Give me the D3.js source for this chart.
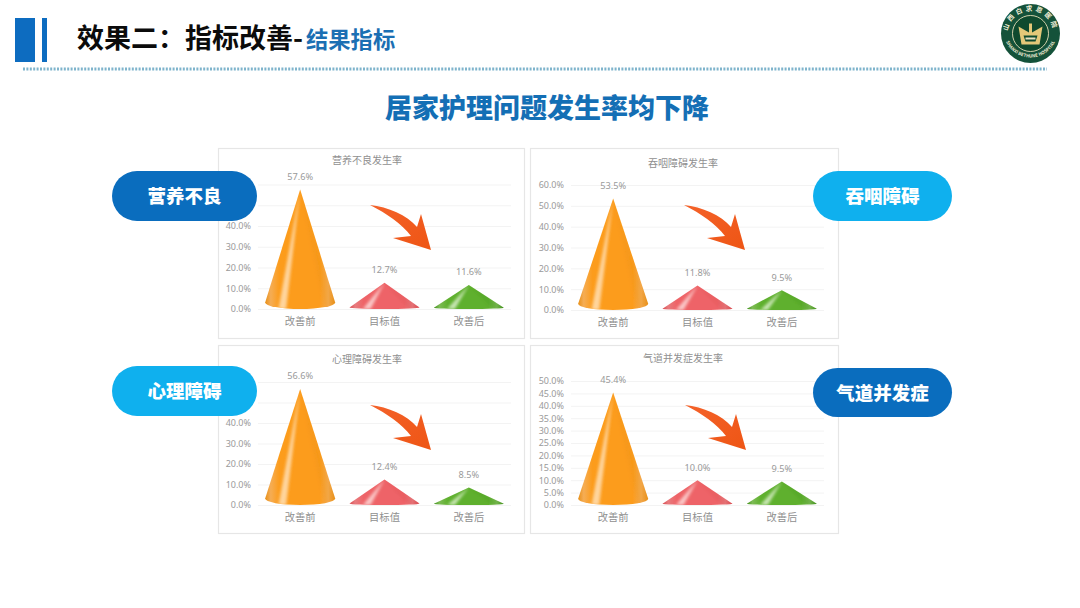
<!DOCTYPE html>
<html><head><meta charset="utf-8">
<script src="https://cdn.jsdelivr.net/npm/d3@7/dist/d3.min.js"></script>
<style>html,body{margin:0;padding:0;background:#fff}svg{display:block}text{font-family:"Noto Sans CJK SC","Noto Sans",sans-serif}</style>
</head><body><svg id="c" width="1080" height="608"></svg>
<script>
const categories = ["改善前","目标值","改善后"];
const chartTitles = ["营养不良发生率","吞咽障碍发生率","心理障碍发生率","气道并发症发生率"];
const pillLabels = ["营养不良","吞咽障碍","心理障碍","气道并发症"];
const valuesNutrition = [57.6,12.7,11.6];
const valuesSwallow = [53.5,11.8,9.5];
const valuesMental = [56.6,12.4,8.5];
const valuesAirway = [45.4,10.0,9.5];
const ticksTen = [0,10,20,30,40,50,60];
const ticksFive = [0,5,10,15,20,25,30,35,40,45,50];
const headingMain = "效果二：指标改善-";
const headingSub = "结果指标";
const headline = "居家护理问题发生率均下降";

const panels = [
 {box:[218,148,306,190],x:[258,511],y:[309,184.5],max:60,vals:valuesNutrition,ticks:ticksTen,tx:367,ty:160,arrow:[370,205],title:chartTitles[0],
  pill:[112,171,145,50,"#0a6dbe"],pillText:pillLabels[0]},
 {box:[530,148,308,190],x:[571,824],y:[310,185],max:60,vals:valuesSwallow,ticks:ticksTen,tx:683,ty:163,arrow:[684,205],title:chartTitles[1],
  pill:[813,171,139,50,"#0fb0ee"],pillText:pillLabels[1]},
 {box:[218,345,306,188],x:[258,511],y:[505,382],max:60,vals:valuesMental,ticks:ticksTen,tx:367,ty:359,arrow:[370,405],title:chartTitles[2],
  pill:[112,366,145,50,"#0fb0ee"],pillText:pillLabels[2]},
 {box:[530,345,308,188],x:[571,824],y:[505,381],max:50,vals:valuesAirway,ticks:ticksFive,tx:683,ty:358,arrow:[685,405],title:chartTitles[3],
  pill:[813,368,139,49,"#0a6dbe"],pillText:pillLabels[3]}
];
const coneColors = [
 {id:"o",edge:"#f5ad55",base:"#fc9c1c",hi:"#ffe3bd",dark:"#e89018"},
 {id:"r",edge:"#e77b7e",base:"#ee6468",hi:"#fde0df",dark:"#d9484d"},
 {id:"g",edge:"#7dbb55",base:"#5fb02e",hi:"#e2f3d4",dark:"#3f8f1a"}
];
const svg = d3.select("#c");
const defs = svg.append("defs");
coneColors.forEach(c=>{
  const g = defs.append("linearGradient").attr("id","grad-"+c.id);
  [[0,c.dark],[.08,c.edge],[.2,c.base],[.78,c.base],[.9,c.edge],[1,c.dark]]
   .forEach(([o,col])=>g.append("stop").attr("offset",o).attr("stop-color",col));
});
defs.append("filter").attr("id","soft").attr("x","-20%").attr("y","-20%").attr("width","140%").attr("height","140%")
  .append("feGaussianBlur").attr("stdDeviation",0.45);
defs.append("filter").attr("id","glow").attr("x","-60%").attr("y","-20%").attr("width","220%").attr("height","140%")
  .append("feGaussianBlur").attr("stdDeviation",1.7);
const arrowGrad = defs.append("linearGradient").attr("id","arrowG").attr("x1",0).attr("y1",0).attr("x2",1).attr("y2",1);
arrowGrad.append("stop").attr("offset",0).attr("stop-color","#f4622a");
arrowGrad.append("stop").attr("offset",1).attr("stop-color","#ee5514");

// header
svg.append("rect").attr("x",15).attr("y",18).attr("width",20).attr("height",44).attr("fill","#0d6cc0");
svg.append("rect").attr("x",42).attr("y",18).attr("width",5).attr("height",44).attr("fill","#0d6cc0");
svg.append("line").attr("x1",23).attr("x2",1047).attr("y1",69).attr("y2",69)
  .attr("stroke","#7fb4cc").attr("stroke-width",3).attr("stroke-dasharray","2 1.4");
const h = svg.append("text").attr("y",48).attr("font-weight",700);
h.append("tspan").attr("x",77).attr("font-size",27).attr("fill","#0b0b0b").text(headingMain);
h.append("tspan").attr("x",306).attr("font-size",22.3).attr("fill","#1b6fb3").text(headingSub);
svg.append("text").attr("x",547).attr("y",118).attr("text-anchor","middle").attr("font-size",27)
  .attr("font-weight",900).attr("fill","#146fb5").text(headline);

// logo
const logo = svg.append("g").attr("transform","translate(1030.5,33.5)");
logo.append("circle").attr("r",29.5).attr("fill","#14523a");
logo.append("circle").attr("r",18).attr("fill","#0f4a2e").attr("stroke","#e8dfb8").attr("stroke-width",.9);
defs.append("path").attr("id","ringTop").attr("d","M-22,7A23,23 0 1 1 22,7");
defs.append("path").attr("id","ringBot").attr("d","M-27,-3A27,27 0 0 0 27,-3");
logo.append("text").attr("font-size",6.5).attr("font-weight",700).attr("fill","#f5f0d8").attr("letter-spacing",3)
  .append("textPath").attr("href","#ringTop").attr("startOffset","50%").attr("text-anchor","middle").text("山西白求恩医院");
logo.append("text").attr("font-size",4.4).attr("font-weight",700).attr("fill","#f5f0d8")
  .append("textPath").attr("href","#ringBot").attr("startOffset","50%").attr("text-anchor","middle").text("SHANXI BETHUNE HOSPITAL");
logo.append("path").attr("fill","#e3c878")
  .attr("d","M-1.5,-10H1.5V-1L12,-7L9,11H-9L-12,-7L-1.5,-1Z");
logo.append("path").attr("fill","#0f4a2e").attr("d","M-7,2H7L5,8H-5Z");
logo.append("rect").attr("x",-5).attr("y",4).attr("width",10).attr("height",2).attr("fill","#e8e2c0");

panels.forEach((p,pi)=>{
  const g = svg.append("g");
  g.append("rect").attr("x",p.box[0]+.5).attr("y",p.box[1]+.5).attr("width",p.box[2]).attr("height",p.box[3])
    .attr("fill","#fff").attr("stroke","#e6e6e6").attr("stroke-width",1.2);
  g.append("text").attr("x",p.tx).attr("y",p.ty+3.5).attr("text-anchor","middle").attr("font-size",10)
    .attr("fill","#909090").text(p.title);
  const x = d3.scaleBand().domain(categories).range(p.x);
  const y = d3.scaleLinear().domain([0,p.max]).range(p.y);
  const ya = g.append("g").attr("transform",`translate(${p.x[0]},0)`)
    .call(d3.axisLeft(y).tickValues(p.ticks).tickSize(0).tickPadding(7).tickFormat(d=>d.toFixed(1)+"%"));
  ya.select(".domain").remove();
  ya.selectAll("text").attr("font-size",9).attr("fill","#9a9a9a")
    .style("font-family",'"Noto Sans","Open Sans",sans-serif');
  ya.selectAll("line").attr("x2",p.x[1]-p.x[0]).attr("stroke","#f3f3f3").attr("stroke-width",1);
  const xa = g.append("g").attr("transform",`translate(0,${p.y[0]})`)
    .call(d3.axisBottom(x).tickSize(0).tickPadding(9));
  xa.select(".domain").remove();
  xa.selectAll("text").attr("font-size",10.3).attr("fill","#8f8f8f");

  const hw = 35;
  const cone = g.selectAll(".cone").data(p.vals).join("g").attr("class","cone").attr("filter","url(#soft)");
  cone.each(function(v,i){
    const cx = x(categories[i])+x.bandwidth()/2, top=y(v), bot=y(0), ht=bot-top;
    const ry = Math.max(1.2,ht*0.055), by = bot-ry;
    const c = coneColors[i];
    const s = d3.select(this);
    const outline = `M${cx},${top}L${cx+hw},${by}A${hw},${ry} 0 0 1 ${cx-hw},${by}Z`;
    const clipId = `clip-${pi}-${i}`;
    defs.append("clipPath").attr("id",clipId).append("path").attr("d",outline);
    s.append("path").attr("fill",`url(#grad-${c.id})`).attr("d",outline);
    const inner = s.append("g").attr("clip-path",`url(#${clipId})`);
    inner.append("path").attr("fill",c.hi).attr("opacity",.8).attr("filter","url(#glow)")
      .attr("d",`M${cx},${top}L${cx-hw*.62},${by+ry}L${cx-hw*.4},${by+ry}Z`);
    inner.append("path").attr("fill",c.dark).attr("opacity",.22).attr("filter","url(#glow)")
      .attr("d",`M${cx},${top}L${cx+hw*.7},${by+ry}L${cx+hw},${by}Z`);
  });
  g.selectAll(".val").data(p.vals).join("text").attr("class","val")
    .attr("x",(d,i)=>x(categories[i])+x.bandwidth()/2)
    .attr("y",d=>y(d)-9.5).attr("text-anchor","middle").attr("font-size",9.2)
    .style("font-family",'"Noto Sans","Open Sans",sans-serif')
    .attr("fill","#9a9a9a").text(d=>d.toFixed(1)+"%");
  // decorative arrow
  g.append("path").attr("transform",`translate(${p.arrow[0]},${p.arrow[1]})`)
    .attr("fill","url(#arrowG)")
    .attr("d","M0,0C18,2 37,10 47,22L51,9L61,45L23,33L41,31C32,19 16,8 0,0Z");
});

// pills on top
panels.forEach(p=>{
  const [px,py,pw,ph,col]=p.pill;
  svg.append("rect").attr("x",px).attr("y",py).attr("width",pw).attr("height",ph).attr("rx",ph/2)
    .attr("fill",col);
  svg.append("text").attr("x",px+pw/2).attr("y",py+ph/2+7).attr("text-anchor","middle")
    .attr("font-size",18.5).attr("font-weight",900).attr("fill","#fff").text(p.pillText);
});
</script></body></html>
